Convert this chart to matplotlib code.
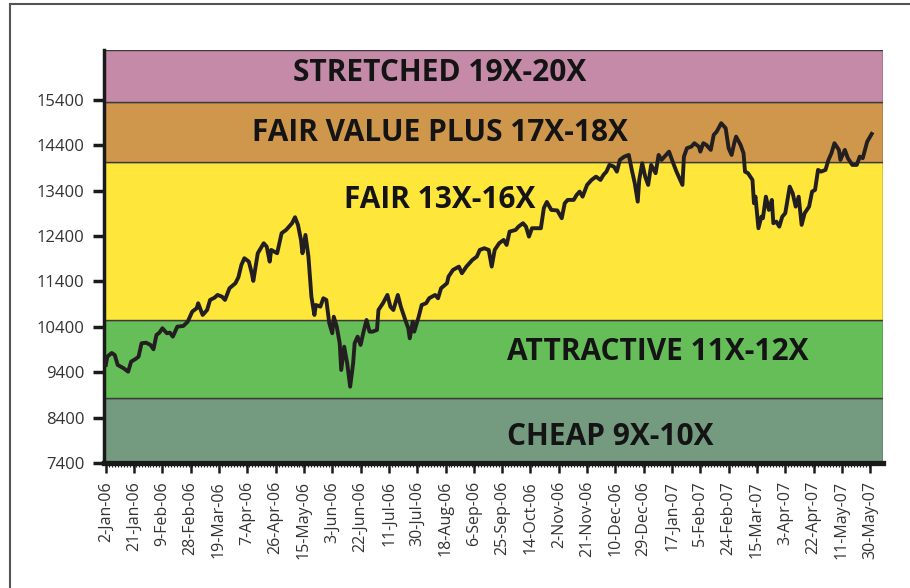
import matplotlib
matplotlib.use("Agg")
import matplotlib.pyplot as plt
from matplotlib.lines import Line2D
import pandas as pd

start_date = "2006-01-02"
days = [0, 1, 4, 6, 8, 12, 15, 17, 20, 22, 24, 27, 30, 32, 34, 36, 38, 41, 43, 45,
        48, 52, 55, 58, 61, 62, 65, 68, 70, 73, 75, 78, 80, 83, 87, 89, 91, 93, 96, 98,
        99, 102, 106, 108, 110, 111, 115, 118, 121, 125, 127, 129, 131, 132, 134, 136,
        138, 140, 141, 144, 146, 148, 150, 152, 153, 155, 157, 158, 160, 162, 164, 166,
        167, 169, 171, 173, 175, 177, 179, 182, 183, 186, 189, 191, 193, 196, 198, 201,
        203, 204, 206, 207, 210, 212, 215, 217, 221, 223, 225, 229, 230, 233, 237, 239,
        242, 246, 249, 251, 254, 257, 259, 261, 264, 267, 269, 271, 275, 277, 280, 282,
        284, 286, 289, 292, 294, 296, 299, 303, 306, 308, 310, 314, 316, 318, 320, 323,
        326, 329, 332, 334, 336, 338, 341, 343, 345, 348, 351, 353, 355, 357, 358, 360,
        362, 364, 366, 369, 371, 373, 375, 378, 380, 383, 387, 388, 390, 393, 395, 398,
        399, 401, 403, 406, 408, 410, 413, 416, 418, 420, 422, 423, 426, 428, 429, 431,
        434, 435, 436, 438, 440, 441, 443, 445, 447, 448, 450, 452, 454, 456, 459, 461,
        463, 465, 467, 469, 472, 474, 476, 478, 480, 483, 485, 487, 489, 492, 493, 496,
        498, 501, 504, 506, 508, 511, 514]
values = [9560, 9743, 9824, 9780, 9560, 9487, 9412, 9633, 9692, 9743, 10038, 10051, 10001,
          9906, 10221, 10272, 10369, 10259, 10272, 10184, 10404, 10419, 10514, 10735, 10810,
          10920, 10662, 10772, 10993, 11043, 11103, 11065, 10993, 11250, 11361, 11493, 11764,
          11912, 11837, 11581, 11411, 12022, 12242, 12167, 11837, 12095, 12022, 12463, 12535,
          12683, 12815, 12646, 12315, 12022, 12425, 11947, 11065, 10662, 10882, 10845, 11030,
          10993, 10479, 10259, 10624, 10404, 10038, 9450, 9963, 9597, 9082, 9597, 10038,
          10184, 10001, 10294, 10552, 10294, 10294, 10331, 10772, 10920, 11103, 10845, 10772,
          11103, 10845, 10552, 10369, 10148, 10514, 10294, 10624, 10882, 10920, 11030, 11103,
          11030, 11250, 11361, 11506, 11654, 11727, 11581, 11727, 11874, 11947, 12095, 12132,
          12095, 11727, 12095, 12242, 12315, 12205, 12498, 12535, 12609, 12683, 12608, 12388,
          12573, 12573, 12573, 13020, 13152, 12976, 12965, 12793, 13124, 13197, 13197, 13307,
          13380, 13269, 13527, 13637, 13710, 13637, 13748, 13820, 13968, 13930, 13820, 14078,
          14151, 14188, 13858, 13565, 13159, 13637, 14005, 13710, 13527, 13968, 13785, 14188,
          14078, 14151, 14261, 14078, 13820, 13527, 14151, 14336, 14371, 14446, 14371, 14261,
          14446, 14409, 14299, 14629, 14702, 14887, 14777, 14336, 14188, 14481, 14592, 14409,
          14226, 13820, 13785, 13637, 13124, 13269, 12573, 12828, 12793, 13269, 12976, 13197,
          12683, 12718, 12608, 12828, 12903, 13490, 13344, 13049, 13269, 12646, 12903, 13049,
          13380, 13417, 13858, 13820, 13858, 14078, 14226, 14446, 14299, 14078, 14299, 14116,
          13968, 13968, 14151, 14116, 14481, 14651]

tick_labels = ["2-Jan-06", "21-Jan-06", "9-Feb-06", "28-Feb-06", "19-Mar-06", "7-Apr-06",
               "26-Apr-06", "15-May-06", "3-Jun-06", "22-Jun-06", "11-Jul-06", "30-Jul-06",
               "18-Aug-06", "6-Sep-06", "25-Sep-06", "14-Oct-06", "2-Nov-06", "21-Nov-06",
               "10-Dec-06", "29-Dec-06", "17-Jan-07", "5-Feb-07", "24-Feb-07", "15-Mar-07",
               "3-Apr-07", "22-Apr-07", "11-May-07", "30-May-07"]
y_ticks = [7400, 8400, 9400, 10400, 11400, 12400, 13400, 14400, 15400]

band_names = ["CHEAP 9X-10X", "ATTRACTIVE 11X-12X", "FAIR 13X-16X",
              "FAIR VALUE PLUS 17X-18X", "STRETCHED 19X-20X"]
band_edges = [7400, 8830, 10550, 14030, 15350, 16500]
band_colors = ["#749B80", "#66BE58", "#FEE63A", "#CF974C", "#C48AA8"]
label_dates = ["2006-09-28", "2006-09-28", "2006-08-14", "2006-08-14", "2006-08-14"]
label_values = [7973, 9846, 13197, 14673, 15996]
label_align = ["left", "left", "center", "center", "center"]

dates = pd.to_datetime(start_date) + pd.to_timedelta(days, unit="D")
tick_pos = pd.to_datetime(tick_labels, format="%d-%b-%y")

fig = plt.figure(figsize=(9.10, 5.88), dpi=100)
ax = fig.add_axes([104 / 910, 1 - 463 / 588, (883 - 104) / 910, (463 - 50) / 588])

for lo, hi, c in zip(band_edges[:-1], band_edges[1:], band_colors):
    ax.axhspan(lo, hi, facecolor=c, edgecolor="#3a3a3a", linewidth=1.0, zorder=1)

for name, d, v, ha in zip(band_names, label_dates, label_values, label_align):
    ax.text(pd.Timestamp(d), v, name, ha=ha, va="center", fontsize=21.5,
            fontweight="bold", family="Open Sans", color="#141414", zorder=3)

ax.plot(dates, values, color="#231F20", linewidth=2.8, solid_joinstyle="round", zorder=4)

ax.set_xlim(pd.Timestamp(start_date) - pd.Timedelta(days=1.2),
            pd.Timestamp(start_date) + pd.Timedelta(days=521.6))
ax.set_ylim(band_edges[0], band_edges[-1])

ax.set_xticks(tick_pos)
ax.set_xticklabels(tick_labels, rotation=90, fontsize=11.5, family="Open Sans", color="#333333")
ax.set_xticks(pd.date_range(start_date, tick_pos[-1], freq="2D"), minor=True)
ax.set_yticks(y_ticks)
ax.set_yticklabels([str(t) for t in y_ticks], fontsize=12, family="Open Sans", color="#333333")

ax.tick_params(axis="y", which="major", length=8, width=2.5, color="#1a1a1a", pad=6)
ax.tick_params(axis="x", which="major", length=7, width=1.8, color="#1a1a1a", pad=6)
ax.tick_params(axis="x", which="minor", length=3, width=0.8, color="#1a1a1a")

for s in ["top", "right"]:
    ax.spines[s].set_visible(False)
ax.spines["left"].set_linewidth(2.5)
ax.spines["left"].set_color("#1a1a1a")
ax.spines["bottom"].set_linewidth(3.8)
ax.spines["bottom"].set_color("#1a1a1a")

fig.add_artist(Line2D([10 / 910, 1], [1 - 4 / 588, 1 - 4 / 588], transform=fig.transFigure,
                      color="#555555", linewidth=1.5))
fig.add_artist(Line2D([10 / 910, 10 / 910], [0, 1 - 4 / 588], transform=fig.transFigure,
                      color="#555555", linewidth=1.5))

fig.savefig("out.png", dpi=100)
